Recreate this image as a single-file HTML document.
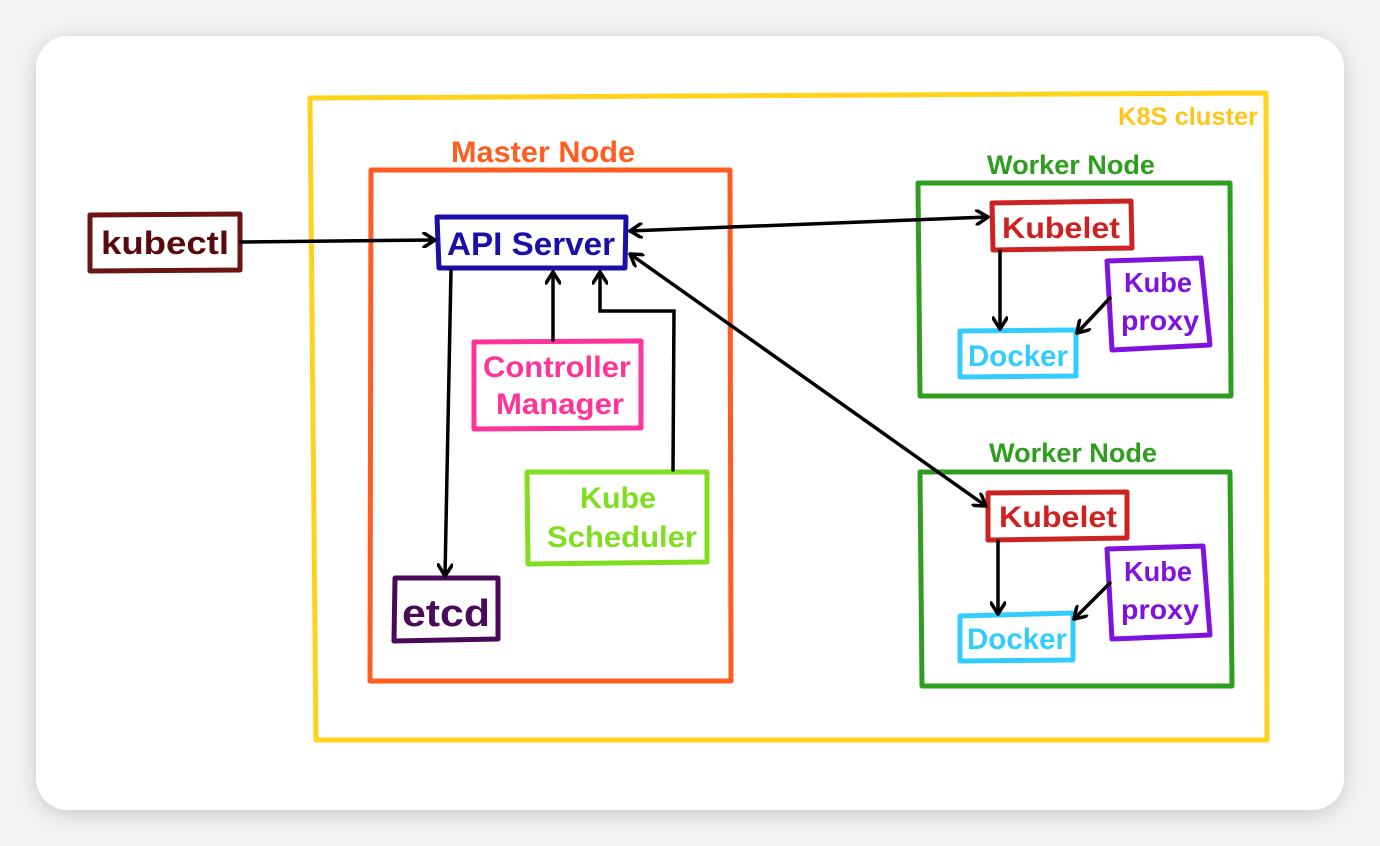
<!DOCTYPE html>
<html><head><meta charset="utf-8"><style>
html,body{margin:0;padding:0;width:1380px;height:846px;overflow:hidden;background:#f3f3f3;}
svg{display:block}
text{font-family:"Liberation Sans",sans-serif;font-weight:bold;}
</style></head><body>
<svg width="1380" height="846" viewBox="0 0 1380 846" xmlns="http://www.w3.org/2000/svg">
<defs>
<filter id="sh" x="-10%" y="-10%" width="120%" height="120%"><feDropShadow dx="0" dy="4" stdDeviation="10" flood-color="#000" flood-opacity="0.18"/></filter>
<marker id="ah" markerWidth="16" markerHeight="16" refX="13" refY="8" orient="auto-start-reverse" markerUnits="userSpaceOnUse">
<path d="M2,1 L13,8 L2,15" fill="none" stroke="#000" stroke-width="3.5" stroke-linecap="round" stroke-linejoin="round"/></marker>
</defs>
<rect x="36" y="36" width="1308" height="774" rx="32" fill="#fff" filter="url(#sh)"/>
<g fill="none" stroke-width="5" stroke-linejoin="round">
<polygon points="310,98 1266,93 1267,740 316,740" stroke="#ffd21c"/>
<polygon points="371,170 730,170 731,681 370,681" stroke="#ff5c1f"/>
<polygon points="90,215 240,214 240,270 90,271" stroke="#6b1414"/>
<polygon points="437,217 626,217 625,268 439,268" stroke="#1a0fa8"/>
<polygon points="474,342 641,341 641,428 474,429" stroke="#ff3399"/>
<polygon points="527,472 707,472 707,562 528,564" stroke="#80de1e"/>
<polygon points="395,578 498,578 498,639 394,641" stroke="#4a0a5a"/>
<polygon points="918,183 1230,183 1231,396 920,396" stroke="#2e9e1e"/>
<polygon points="992,203 1131,201 1132,248 993,250" stroke="#cc2222"/>
<polygon points="1107,261 1201,258 1210,345 1112,350" stroke="#8012e0"/>
<polygon points="960,331 1076,330 1076,376 960,377" stroke="#33ccff"/>
<polygon points="920,472 1230,472 1232,686 922,686" stroke="#2e9e1e"/>
<polygon points="988,493 1127,492 1127,538 988,540" stroke="#cc2222"/>
<polygon points="1107,549 1203,546 1210,635 1112,639" stroke="#8012e0"/>
<polygon points="960,616 1073,613 1073,660 960,661" stroke="#33ccff"/>
</g>
<g fill="none" stroke="#000" stroke-width="3.5" stroke-linecap="round">
<line x1="241" y1="242" x2="435" y2="240" marker-end="url(#ah)"/>
<line x1="630" y1="231" x2="988" y2="217" marker-start="url(#ah)" marker-end="url(#ah)"/>
<line x1="630" y1="254" x2="986" y2="506" marker-start="url(#ah)" marker-end="url(#ah)"/>
<line x1="451" y1="270" x2="445" y2="576" marker-end="url(#ah)"/>
<line x1="553" y1="340" x2="553" y2="272" marker-end="url(#ah)"/>
<polyline points="673,470 674,311 600,311 600,272" marker-end="url(#ah)"/>
<line x1="1000" y1="251" x2="1000" y2="329" marker-end="url(#ah)"/>
<line x1="1110" y1="298" x2="1077" y2="333" marker-end="url(#ah)"/>
<line x1="998" y1="541" x2="998" y2="614" marker-end="url(#ah)"/>
<line x1="1110" y1="583" x2="1074" y2="619" marker-end="url(#ah)"/>
</g>
<text x="1188" y="125" font-size="25" fill="#ffc61a" text-anchor="middle" textLength="140" lengthAdjust="spacingAndGlyphs">K8S cluster</text>
<text x="543" y="162" font-size="30" fill="#ff5c1f" text-anchor="middle" textLength="184" lengthAdjust="spacingAndGlyphs">Master Node</text>
<text x="1071" y="174" font-size="27" fill="#2e9e1e" text-anchor="middle" textLength="168" lengthAdjust="spacingAndGlyphs">Worker Node</text>
<text x="1073" y="462" font-size="27" fill="#2e9e1e" text-anchor="middle" textLength="168" lengthAdjust="spacingAndGlyphs">Worker Node</text>
<text x="165" y="254" font-size="32" fill="#5a0a0a" text-anchor="middle" textLength="128" lengthAdjust="spacingAndGlyphs">kubectl</text>
<text x="531" y="255" font-size="32" fill="#1a0fa8" text-anchor="middle" textLength="168" lengthAdjust="spacingAndGlyphs">API Server</text>
<text x="557" y="377" font-size="30" fill="#ff3399" text-anchor="middle" textLength="148" lengthAdjust="spacingAndGlyphs">Controller</text>
<text x="560" y="414" font-size="30" fill="#ff3399" text-anchor="middle" textLength="128" lengthAdjust="spacingAndGlyphs">Manager</text>
<text x="618" y="508" font-size="30" fill="#80de1e" text-anchor="middle" textLength="76" lengthAdjust="spacingAndGlyphs">Kube</text>
<text x="622" y="547" font-size="30" fill="#80de1e" text-anchor="middle" textLength="150" lengthAdjust="spacingAndGlyphs">Scheduler</text>
<text x="446" y="626" font-size="38" fill="#4a0a5a" text-anchor="middle" textLength="88" lengthAdjust="spacingAndGlyphs">etcd</text>
<text x="1061" y="238" font-size="30" fill="#cc2222" text-anchor="middle" textLength="118" lengthAdjust="spacingAndGlyphs">Kubelet</text>
<text x="1158" y="292" font-size="28" fill="#8012e0" text-anchor="middle" textLength="68" lengthAdjust="spacingAndGlyphs">Kube</text>
<text x="1160" y="330" font-size="28" fill="#8012e0" text-anchor="middle" textLength="78" lengthAdjust="spacingAndGlyphs">proxy</text>
<text x="1018" y="366" font-size="30" fill="#33ccff" text-anchor="middle" textLength="100" lengthAdjust="spacingAndGlyphs">Docker</text>
<text x="1058" y="527" font-size="30" fill="#cc2222" text-anchor="middle" textLength="118" lengthAdjust="spacingAndGlyphs">Kubelet</text>
<text x="1158" y="581" font-size="28" fill="#8012e0" text-anchor="middle" textLength="68" lengthAdjust="spacingAndGlyphs">Kube</text>
<text x="1160" y="619" font-size="28" fill="#8012e0" text-anchor="middle" textLength="78" lengthAdjust="spacingAndGlyphs">proxy</text>
<text x="1017" y="649" font-size="30" fill="#33ccff" text-anchor="middle" textLength="100" lengthAdjust="spacingAndGlyphs">Docker</text>
</svg>
</body></html>
